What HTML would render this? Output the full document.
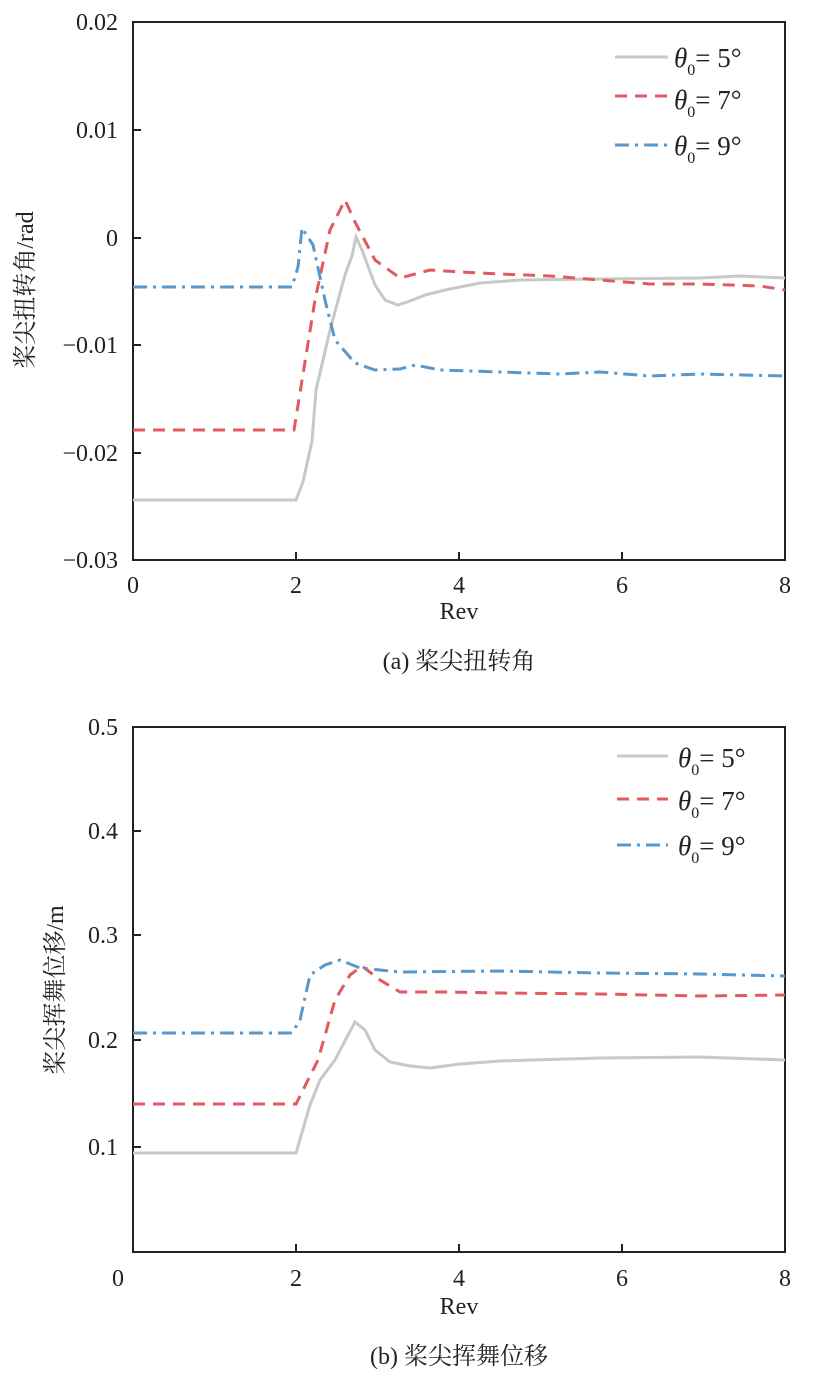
<!DOCTYPE html><html><head><meta charset="utf-8"><style>body{margin:0;background:#fff}svg{display:block}text{font-family:"Liberation Serif","Noto Serif CJK SC",serif;fill:#222}</style></head><body>
<svg width="825" height="1378" viewBox="0 0 825 1378">
<g font-size="24">
<!-- top -->
<rect x="133" y="22" width="652" height="538" fill="none" stroke="#222" stroke-width="2"/>
<g stroke="#222" stroke-width="2">
<line x1="133" y1="130" x2="141" y2="130"/><line x1="133" y1="238" x2="141" y2="238"/><line x1="133" y1="345" x2="141" y2="345"/><line x1="133" y1="453" x2="141" y2="453"/>
<line x1="296" y1="560" x2="296" y2="552"/><line x1="459" y1="560" x2="459" y2="552"/><line x1="622" y1="560" x2="622" y2="552"/>
</g>
<g text-anchor="end"><text x="118" y="30">0.02</text><text x="118" y="138">0.01</text><text x="118" y="246">0</text><text x="118" y="353">−0.01</text><text x="118" y="461">−0.02</text><text x="118" y="568">−0.03</text></g>
<g text-anchor="middle"><text x="133" y="593">0</text><text x="296" y="593">2</text><text x="459" y="593">4</text><text x="622" y="593">6</text><text x="785" y="593">8</text>
<text x="459" y="619">Rev</text><text x="459" y="669">(a) 桨尖扭转角</text>
<text transform="translate(33,290) rotate(-90)">桨尖扭转角/rad</text></g>
<polyline fill="none" stroke="#c8c8c8" stroke-width="3" points="133,500 296,500 303,482 312,441 316,390 330,330 345,275 352,256 356,237 362,250 375,285 385,300 398,305 410,301 425,295 445,290 460,287 480,283 520,280 600,279 700,278 740,276 785,278"/>
<polyline fill="none" stroke="#e05a5f" stroke-width="3" stroke-dasharray="12,8" points="133,430 294,430 315,300 330,230 345,200 355,222 375,260 400,278 430,270 460,272 500,274 550,276 600,280 650,284 700,284 760,286 785,290"/>
<polyline fill="none" stroke="#5898cc" stroke-width="3" stroke-dasharray="14,6,3,6" points="133,287 292,287 298,267 302,228 313,245 325,300 335,340 355,363 375,370 400,369 415,365 440,370 500,372 560,374 600,372 650,376 700,374 785,376"/>
<line x1="615" y1="57" x2="668" y2="57" stroke="#c8c8c8" stroke-width="3"/>
<line x1="615" y1="96" x2="668" y2="96" stroke="#e05a5f" stroke-width="3" stroke-dasharray="12,8"/>
<line x1="615" y1="145" x2="668" y2="145" stroke="#5898cc" stroke-width="3" stroke-dasharray="14,6,3,6"/>
<g font-size="27">
<text x="674" y="67"><tspan font-style="italic">θ</tspan><tspan font-size="16" dy="8">0</tspan><tspan dy="-8">= 5°</tspan></text>
<text x="674" y="109"><tspan font-style="italic">θ</tspan><tspan font-size="16" dy="8">0</tspan><tspan dy="-8">= 7°</tspan></text>
<text x="674" y="155"><tspan font-style="italic">θ</tspan><tspan font-size="16" dy="8">0</tspan><tspan dy="-8">= 9°</tspan></text>
</g>
<!-- bottom -->
<rect x="133" y="727" width="652" height="525" fill="none" stroke="#222" stroke-width="2"/>
<g stroke="#222" stroke-width="2">
<line x1="133" y1="831" x2="141" y2="831"/><line x1="133" y1="935" x2="141" y2="935"/><line x1="133" y1="1040" x2="141" y2="1040"/><line x1="133" y1="1147" x2="141" y2="1147"/>
<line x1="296" y1="1252" x2="296" y2="1244"/><line x1="459" y1="1252" x2="459" y2="1244"/><line x1="622" y1="1252" x2="622" y2="1244"/>
</g>
<g text-anchor="end"><text x="118" y="735">0.5</text><text x="118" y="839">0.4</text><text x="118" y="943">0.3</text><text x="118" y="1048">0.2</text><text x="118" y="1155">0.1</text></g>
<g text-anchor="middle"><text x="118" y="1286">0</text><text x="296" y="1286">2</text><text x="459" y="1286">4</text><text x="622" y="1286">6</text><text x="785" y="1286">8</text>
<text x="459" y="1314">Rev</text><text x="459" y="1364">(b) 桨尖挥舞位移</text>
<text transform="translate(63,990) rotate(-90)">桨尖挥舞位移/m</text></g>
<polyline fill="none" stroke="#c8c8c8" stroke-width="3" points="133,1153 296,1153 310,1105 320,1080 335,1060 348,1035 355,1022 365,1030 375,1050 390,1062 410,1066 430,1068 460,1064 500,1061 600,1058 700,1057 785,1060"/>
<polyline fill="none" stroke="#e05a5f" stroke-width="3" stroke-dasharray="12,8" points="133,1104 296,1104 318,1060 335,1000 350,975 362,966 380,980 400,992 450,992 500,993 600,994 700,996 785,995"/>
<polyline fill="none" stroke="#5898cc" stroke-width="3" stroke-dasharray="14,6,3,6" points="133,1033 292,1033 300,1020 310,975 325,965 340,960 360,968 400,972 500,971 600,973 700,974 785,976"/>
<line x1="617" y1="756" x2="668" y2="756" stroke="#c8c8c8" stroke-width="3"/>
<line x1="617" y1="799" x2="668" y2="799" stroke="#e05a5f" stroke-width="3" stroke-dasharray="12,8"/>
<line x1="617" y1="845" x2="668" y2="845" stroke="#5898cc" stroke-width="3" stroke-dasharray="14,6,3,6"/>
<g font-size="27">
<text x="678" y="767"><tspan font-style="italic">θ</tspan><tspan font-size="16" dy="8">0</tspan><tspan dy="-8">= 5°</tspan></text>
<text x="678" y="810"><tspan font-style="italic">θ</tspan><tspan font-size="16" dy="8">0</tspan><tspan dy="-8">= 7°</tspan></text>
<text x="678" y="855"><tspan font-style="italic">θ</tspan><tspan font-size="16" dy="8">0</tspan><tspan dy="-8">= 9°</tspan></text>
</g>
</g>
</svg></body></html>
